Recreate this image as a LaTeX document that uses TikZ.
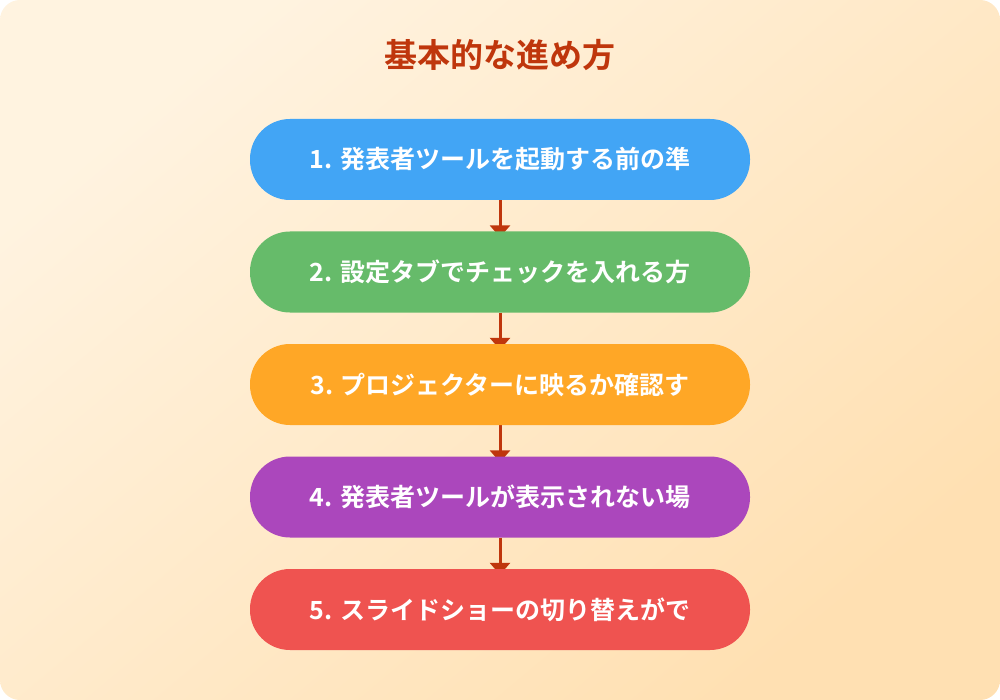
\documentclass[tikz,border=0pt]{standalone}
\usepackage{fontspec}
\newfontfamily\cjk{Noto Sans CJK JP}[BoldFont={* Bold}]
\usetikzlibrary{arrows.meta}
\pgfdeclarelayer{bg}
\pgfsetlayers{bg,main}
\definecolor{bgA}{HTML}{FFF3E0}
\definecolor{bgB}{HTML}{FFE0B2}
\definecolor{titlec}{HTML}{BF360C}
\definecolor{c1}{HTML}{42A5F5}
\definecolor{c2}{HTML}{66BB6A}
\definecolor{c3}{HTML}{FFA726}
\definecolor{c4}{HTML}{AB47BC}
\definecolor{c5}{HTML}{EF5350}
\definecolor{arrc}{HTML}{BF360C}
\tikzset{
  stepbox/.style={minimum width=500pt, minimum height=81pt, rounded corners=40pt,
    text=white, font=\cjk\bfseries\fontsize{25pt}{30pt}\selectfont, inner sep=0pt},
  flowarr/.style={draw=arrc, line width=3pt, -{Triangle[width=20pt,length=12pt]}},
}
\begin{document}
\begin{tikzpicture}[x=1pt,y=1pt]
\useasboundingbox (0,0) rectangle (1000,-700);
\begin{pgfonlayer}{bg}
\shade[rounded corners=20pt, top color=bgA, bottom color=bgB, shading angle=40] (0,0) rectangle (1000,-700);
\end{pgfonlayer}
\node[text=titlec, font=\cjk\bfseries\fontsize{33pt}{38pt}\selectfont] (title) at (500,-55) {基本的な進め方};
\node[stepbox, fill=c1] (b1) at (500,-159.5) {1. 発表者ツールを起動する前の準};
\node[stepbox, fill=c2] (b2) at (500,-272) {2. 設定タブでチェックを入れる方};
\node[stepbox, fill=c3] (b3) at (500,-384.5) {3. プロジェクターに映るか確認す};
\node[stepbox, fill=c4] (b4) at (500,-497) {4. 発表者ツールが表示されない場};
\node[stepbox, fill=c5] (b5) at (500,-609.5) {5. スライドショーの切り替えがで};
\begin{pgfonlayer}{bg}
\foreach \a/\b in {b1/b2,b2/b3,b3/b4,b4/b5}{
  \draw[flowarr] (\a.south) -- ([yshift=-6pt]\b.north);
}
\end{pgfonlayer}
\end{tikzpicture}
\end{document}
